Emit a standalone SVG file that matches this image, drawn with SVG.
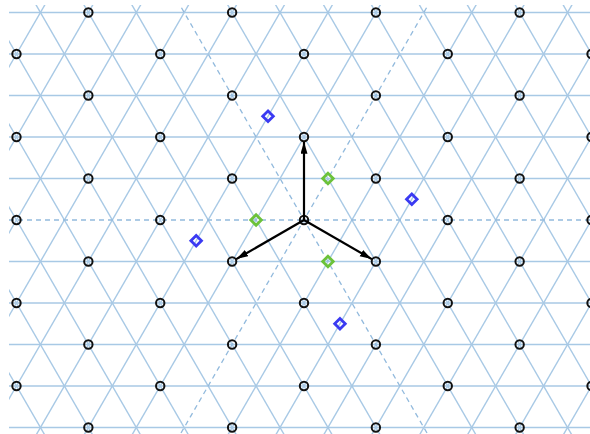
<svg xmlns="http://www.w3.org/2000/svg" xmlns:xlink="http://www.w3.org/1999/xlink" width="590" height="434" viewBox="0 0 590 434">
<style>
.g{stroke:#a8c9e5;stroke-width:1.4;fill:none}
.d{stroke:#92badd;stroke-width:1.3;stroke-dasharray:5,4;fill:none}
.lp{fill:none;stroke:#111;stroke-width:2}
.gr{fill:none;stroke:#6cc23a;stroke-width:2.8}
.bl{fill:none;stroke:#3a3af2;stroke-width:2.8}
.ar{stroke:#000;stroke-width:2.2;fill:none;marker-end:url(#ah)}
</style>
<defs>
<clipPath id="clip"><rect x="9" y="5" width="600" height="440"/></clipPath>
<marker id="ah" markerUnits="userSpaceOnUse" markerWidth="12" markerHeight="8" refX="12" refY="3.5" orient="auto"><path d="M0,0 L12,3.5 L0,7 z" fill="#000"/></marker>
<line id="p" x1="176.98" y1="0" x2="431.02" y2="440"/>
<line id="m" x1="431.02" y1="0" x2="176.98" y2="440"/>
<polygon id="dm" points="0,-5.3 5.3,0 0,5.3 -5.3,0"/>
</defs>
<g id="grid" clip-path="url(#clip)">
<g class="g">
<line x1="0" y1="12.5" x2="600" y2="12.5"/>
<line x1="0" y1="54" x2="600" y2="54"/>
<line x1="0" y1="95.5" x2="600" y2="95.5"/>
<line x1="0" y1="137" x2="600" y2="137"/>
<line x1="0" y1="178.5" x2="600" y2="178.5"/>
<line x1="0" y1="261.5" x2="600" y2="261.5"/>
<line x1="0" y1="303" x2="600" y2="303"/>
<line x1="0" y1="344.5" x2="600" y2="344.5"/>
<line x1="0" y1="386" x2="600" y2="386"/>
<line x1="0" y1="427.5" x2="600" y2="427.5"/>
<use href="#p" transform="translate(-383.36,0)"/>
<use href="#p" transform="translate(-335.44,0)"/>
<use href="#p" transform="translate(-287.52,0)"/>
<use href="#p" transform="translate(-239.6,0)"/>
<use href="#p" transform="translate(-191.68,0)"/>
<use href="#p" transform="translate(-143.76,0)"/>
<use href="#p" transform="translate(-95.84,0)"/>
<use href="#p" transform="translate(-47.92,0)"/>
<use href="#p" transform="translate(47.92,0)"/>
<use href="#p" transform="translate(95.84,0)"/>
<use href="#p" transform="translate(143.76,0)"/>
<use href="#p" transform="translate(191.68,0)"/>
<use href="#p" transform="translate(239.6,0)"/>
<use href="#p" transform="translate(287.52,0)"/>
<use href="#p" transform="translate(335.44,0)"/>
<use href="#p" transform="translate(383.36,0)"/>
<use href="#m" transform="translate(-383.36,0)"/>
<use href="#m" transform="translate(-335.44,0)"/>
<use href="#m" transform="translate(-287.52,0)"/>
<use href="#m" transform="translate(-239.6,0)"/>
<use href="#m" transform="translate(-191.68,0)"/>
<use href="#m" transform="translate(-143.76,0)"/>
<use href="#m" transform="translate(-95.84,0)"/>
<use href="#m" transform="translate(-47.92,0)"/>
<use href="#m" transform="translate(47.92,0)"/>
<use href="#m" transform="translate(95.84,0)"/>
<use href="#m" transform="translate(143.76,0)"/>
<use href="#m" transform="translate(191.68,0)"/>
<use href="#m" transform="translate(239.6,0)"/>
<use href="#m" transform="translate(287.52,0)"/>
<use href="#m" transform="translate(335.44,0)"/>
<use href="#m" transform="translate(383.36,0)"/>
</g>
<g class="d">
<line x1="0" y1="220" x2="600" y2="220"/>
<use href="#p"/>
<use href="#m"/>
</g>
</g>
<g id="lattice" class="lp">
<circle cx="88.36" cy="12.5" r="4.2"/><circle cx="232.12" cy="12.5" r="4.2"/><circle cx="375.88" cy="12.5" r="4.2"/><circle cx="519.64" cy="12.5" r="4.2"/>
<circle cx="16.48" cy="54" r="4.2"/><circle cx="160.24" cy="54" r="4.2"/><circle cx="304" cy="54" r="4.2"/><circle cx="447.76" cy="54" r="4.2"/><circle cx="591.52" cy="54" r="4.2"/>
<circle cx="88.36" cy="95.5" r="4.2"/><circle cx="232.12" cy="95.5" r="4.2"/><circle cx="375.88" cy="95.5" r="4.2"/><circle cx="519.64" cy="95.5" r="4.2"/>
<circle cx="16.48" cy="137" r="4.2"/><circle cx="160.24" cy="137" r="4.2"/><circle cx="304" cy="137" r="4.2"/><circle cx="447.76" cy="137" r="4.2"/><circle cx="591.52" cy="137" r="4.2"/>
<circle cx="88.36" cy="178.5" r="4.2"/><circle cx="232.12" cy="178.5" r="4.2"/><circle cx="375.88" cy="178.5" r="4.2"/><circle cx="519.64" cy="178.5" r="4.2"/>
<circle cx="16.48" cy="220" r="4.2"/><circle cx="160.24" cy="220" r="4.2"/><circle cx="304" cy="220" r="4.2"/><circle cx="447.76" cy="220" r="4.2"/><circle cx="591.52" cy="220" r="4.2"/>
<circle cx="88.36" cy="261.5" r="4.2"/><circle cx="232.12" cy="261.5" r="4.2"/><circle cx="375.88" cy="261.5" r="4.2"/><circle cx="519.64" cy="261.5" r="4.2"/>
<circle cx="16.48" cy="303" r="4.2"/><circle cx="160.24" cy="303" r="4.2"/><circle cx="304" cy="303" r="4.2"/><circle cx="447.76" cy="303" r="4.2"/><circle cx="591.52" cy="303" r="4.2"/>
<circle cx="88.36" cy="344.5" r="4.2"/><circle cx="232.12" cy="344.5" r="4.2"/><circle cx="375.88" cy="344.5" r="4.2"/><circle cx="519.64" cy="344.5" r="4.2"/>
<circle cx="16.48" cy="386" r="4.2"/><circle cx="160.24" cy="386" r="4.2"/><circle cx="304" cy="386" r="4.2"/><circle cx="447.76" cy="386" r="4.2"/><circle cx="591.52" cy="386" r="4.2"/>
<circle cx="88.36" cy="427.5" r="4.2"/><circle cx="232.12" cy="427.5" r="4.2"/><circle cx="375.88" cy="427.5" r="4.2"/><circle cx="519.64" cy="427.5" r="4.2"/>
</g>
<g id="green-sites" class="gr">
<use href="#dm" x="327.96" y="178.5"/>
<use href="#dm" x="256.08" y="220"/>
<use href="#dm" x="327.96" y="261.5"/>
</g>
<g id="blue-sites" class="bl">
<use href="#dm" x="268.02" y="116.25"/>
<use href="#dm" x="411.82" y="199.25"/>
<use href="#dm" x="196.18" y="240.75"/>
<use href="#dm" x="339.98" y="323.75"/>
</g>
<g id="vectors">
<line class="ar" x1="304" y1="220" x2="304" y2="141.8"/>
<line class="ar" x1="304" y1="220" x2="236.24" y2="259.12"/>
<line class="ar" x1="304" y1="220" x2="371.76" y2="259.12"/>
</g>
</svg>
